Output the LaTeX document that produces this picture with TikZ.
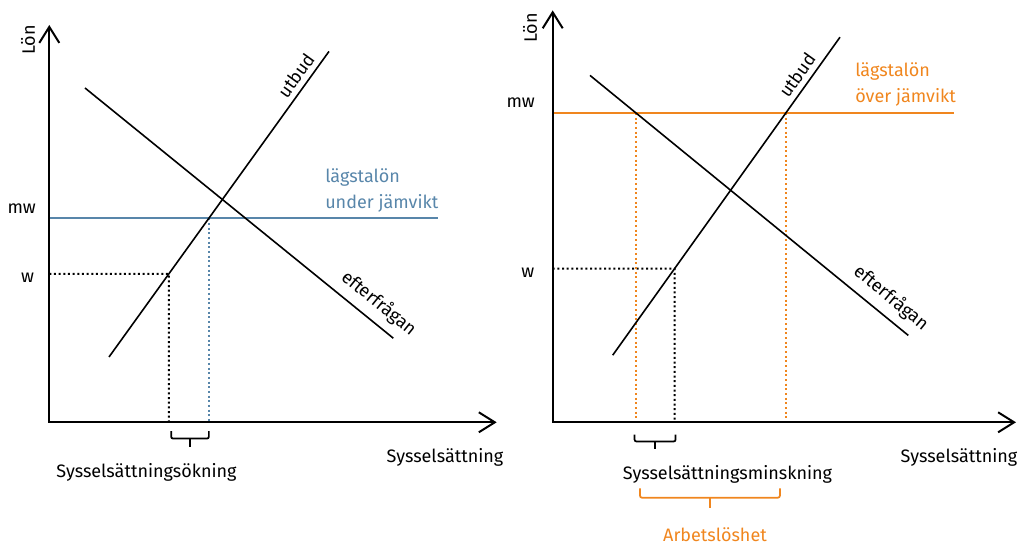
\documentclass[tikz,border=0pt]{standalone}
\usepackage{fontspec}
\setmainfont{Fira Sans}
\usetikzlibrary{arrows.meta,calc}
\definecolor{mwblue}{RGB}{88,134,170}
\definecolor{mworange}{RGB}{240,134,30}
\begin{document}
\begin{tikzpicture}[x=0.75pt,y=-0.75pt,
  lbl/.style={inner sep=0pt,font=\fontsize{13.5}{19.5}\selectfont},
  axis/.style={line width=1.5pt,{Straight Barb[length=12pt,width=15pt,line width=1.5pt]}-{Straight Barb[length=12pt,width=15pt,line width=1.5pt]}},
  curve/.style={line width=1.2pt},
  level/.style={line width=1.5pt},
  dotline/.style={line width=1.5pt,dash pattern=on 1.5pt off 2pt},
  brk/.style={line width=1.3pt,rounded corners=1.5pt},
  curvelbl/.style={lbl,sloped,text depth=0pt,above=4pt}]
\useasboundingbox (0,0) rectangle (1021,545);

% ---------- left panel ----------
\coordinate (O1) at (49.3,422.3);
\coordinate (Y1) at (49.3,25);
\coordinate (X1) at (496.7,422.3);
\coordinate (S1a) at (109,357);
\coordinate (S1b) at (329,51.4);
\coordinate (D1a) at (85,88);
\coordinate (D1b) at (393.3,338.2);
\coordinate (M1a) at (49.3,218.3);
\coordinate (M1b) at (437.7,218.3);
\coordinate (W1a) at (49.3,273.9);
\coordinate (W1b) at (400,273.9);
\coordinate (P1) at (intersection of S1a--S1b and M1a--M1b);
\coordinate (Q1) at (intersection of S1a--S1b and W1a--W1b);

\draw[dotline] (W1a) -- (Q1) -- (Q1 |- O1);
\draw[dotline,mwblue] (P1) -- (P1 |- O1);
\draw[level,mwblue] (M1a) -- (M1b);
\draw[curve] (S1a) -- node[curvelbl,pos=0.897] (ut1) {utbud} (S1b);
\draw[curve] (D1a) -- node[curvelbl,above=4.8pt,pos=0.916] (ef1) {efterfrågan} (D1b);
\draw[axis] (Y1) -- (O1) -- (X1);

\node[lbl,rotate=90] (lon1) at (28,40) {Lön};
\node[lbl,anchor=base] (mw1) at (21.7,213.5) {mw};
\node[lbl,anchor=base] (w1) at (27.5,283) {w};
\node[lbl,text=mwblue,anchor=west,align=left] (min1) at (325,190) {lägstalön\\under jämvikt};
\node[lbl] (xl1) at (445,457) {Sysselsättning};
\node[lbl] (inc1) at (146.5,472) {Sysselsättningsökning};

\path (Q1 |- O1) ++(2.3,8.7) coordinate (B1l);
\path (P1 |- O1) ++(0,8.7) coordinate (B1r);
\draw[brk] (B1l) -- ++(0,7.6) -| (B1r);
\draw[line width=1.3pt] ($(B1l)!0.5!(B1r)+(0,7.6)$) -- ++(0,8);

% ---------- right panel ----------
\coordinate (O2) at (552.7,422.3);
\coordinate (Y2) at (552.7,10.4);
\coordinate (X2) at (1016,422.3);
\coordinate (S2a) at (612.7,355.2);
\coordinate (S2b) at (840,37.2);
\coordinate (D2a) at (590,75.4);
\coordinate (D2b) at (908.3,335.4);
\coordinate (M2a) at (552.7,113);
\coordinate (M2b) at (954,113);
\coordinate (W2a) at (552.7,268.7);
\coordinate (W2b) at (900,268.7);
\coordinate (P2) at (intersection of S2a--S2b and M2a--M2b);
\coordinate (R2) at (intersection of D2a--D2b and M2a--M2b);
\coordinate (Q2) at (intersection of S2a--S2b and W2a--W2b);

\draw[dotline] (W2a) -- (Q2) -- (Q2 |- O2);
\draw[dotline,mworange] (P2) -- (P2 |- O2);
\draw[dotline,mworange] (R2) -- (R2 |- O2);
\draw[level,mworange] (M2a) -- (M2b);
\draw[curve] (S2a) -- node[curvelbl,pos=0.857] (ut2) {utbud} (S2b);
\draw[curve] (D2a) -- node[curvelbl,above=4.8pt,pos=0.91] (ef2) {efterfrågan} (D2b);
\draw[axis] (Y2) -- (O2) -- (X2);

\node[lbl,rotate=90] (lon2) at (530,27.8) {Lön};
\node[lbl,anchor=base] (mw2) at (520.7,107.8) {mw};
\node[lbl,anchor=base] (w2) at (527.7,277.5) {w};
\node[lbl,text=mworange,anchor=west,align=left] (min2) at (855,84.7) {lägstalön\\över jämvikt};
\node[lbl] (xl2) at (959,457) {Sysselsättning};
\node[lbl] (dec2) at (727.5,474) {Sysselsättningsminskning};
\node[lbl,text=mworange] (unemp) at (715,535) {Arbetslöshet};

\path (R2 |- O2) ++(-1.5,12.2) coordinate (B2l);
\path (Q2 |- O2) ++(1,12.2) coordinate (B2r);
\draw[brk] (B2l) -- ++(0,7) -| (B2r);
\draw[line width=1.3pt] ($(B2l)!0.5!(B2r)+(0,7)$) -- ++(0,7.6);

\path (R2 |- O2) ++(4,66) coordinate (B3l);
\path (P2 |- O2) ++(-6,66) coordinate (B3r);
\draw[brk,mworange] (B3l) -- ++(0,9.4) -| (B3r);
\draw[line width=1.3pt,mworange] ($(B3l)!0.5!(B3r)+(0,9.4)$) -- ++(0,10);
\end{tikzpicture}
\end{document}
